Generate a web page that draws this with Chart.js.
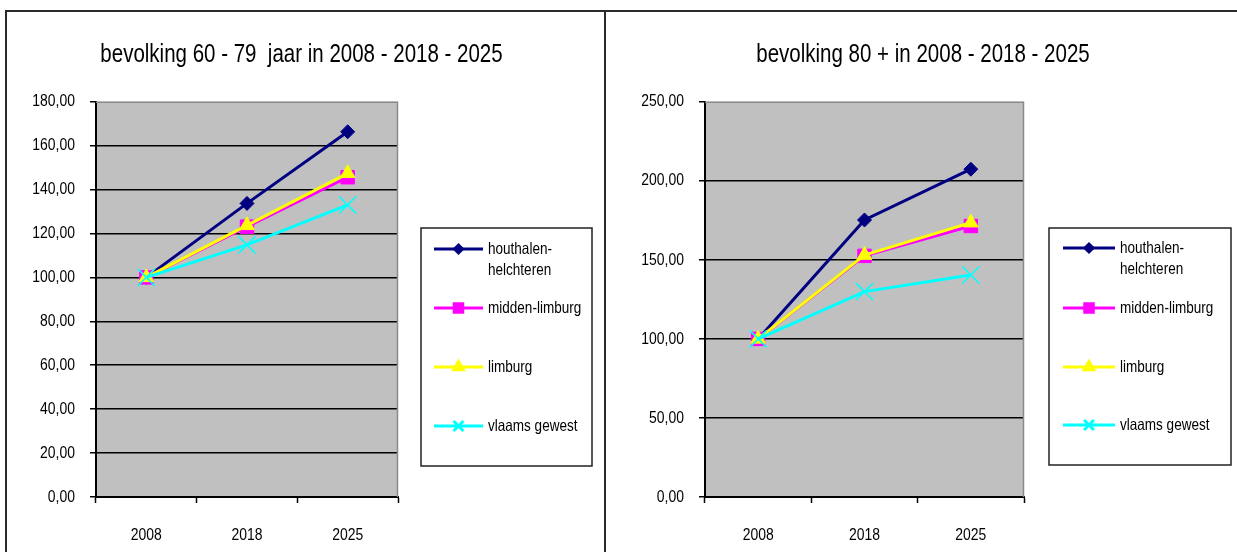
<!DOCTYPE html>
<html>
<head>
<meta charset="utf-8">
<script src="https://cdn.jsdelivr.net/npm/chart.js@4/dist/chart.umd.min.js"></script>
<style>
  html, body { margin: 0; padding: 0; background: #fff; }
  body { width: 1237px; height: 552px; position: relative; overflow: hidden; }
  .frame { position: absolute; background: #2a2a2a; }
  .wrap { position: absolute; }
</style>
</head>
<body>
<div class="frame" style="left:5px; top:10px; width:1232px; height:2px;"></div>
<div class="frame" style="left:5px; top:10px; width:2px; height:542px;"></div>
<div class="frame" style="left:604px; top:10px; width:2px; height:542px;"></div>

<div class="wrap" style="left:7px; top:12px; width:597px; height:540px;"><canvas id="c1" width="597" height="540"></canvas></div>
<div class="wrap" style="left:607px; top:12px; width:630px; height:540px;"><canvas id="c2" width="630" height="540"></canvas></div>

<script>
// ---------- data ----------
const categories = ['2008', '2018', '2025'];
const seriesNames = ['houthalen-helchteren', 'midden-limburg', 'limburg', 'vlaams gewest'];
const legendLines = [['houthalen-', 'helchteren'], ['midden-limburg'], ['limburg'], ['vlaams gewest']];

const title6079 = 'bevolking 60 - 79  jaar in 2008 - 2018 - 2025';
const houthalen6079 = [100, 133.7, 166.3];
const midden6079    = [100, 123.1, 145.6];
const limburg6079   = [100, 123.7, 147.4];
const vlaams6079    = [100, 114.8, 133.0];
const ticks6079     = [0, 20, 40, 60, 80, 100, 120, 140, 160, 180];
const tickLabels6079 = ['0,00', '20,00', '40,00', '60,00', '80,00', '100,00', '120,00', '140,00', '160,00', '180,00'];

const title80 = 'bevolking 80 + in 2008 - 2018 - 2025';
const houthalen80 = [100, 175.2, 207.3];
const midden80    = [100, 152.5, 171.4];
const limburg80   = [100, 153.0, 173.5];
const vlaams80    = [100, 129.9, 140.4];
const ticks80     = [0, 50, 100, 150, 200, 250];
const tickLabels80 = ['0,00', '50,00', '100,00', '150,00', '200,00', '250,00'];

// ---------- styling ----------
const FONT = "'Liberation Sans', Arial, sans-serif";
const NARROW = 0.82; // horizontal condensing, like Arial Narrow
const seriesStyle = [
  { color: '#000080', pointStyle: 'rectRot',  radius: 7,   legendRadius: 4,   borderWidth: 1 },
  { color: '#FF00FF', pointStyle: 'rect',     radius: 9.5, legendRadius: 6,   borderWidth: 1 },
  { color: '#FFFF00', pointStyle: 'triangle', radius: 8.5, legendRadius: 5.5, borderWidth: 1 },
  { color: '#00FFFF', pointStyle: 'crossRot', radius: 12,  legendRadius: 7,   borderWidth: 1.5 }
];

function buildDatasets(values) {
  return values.map((v, i) => {
    const s = seriesStyle[i];
    return {
      label: seriesNames[i],
      data: v,
      borderColor: s.color,
      backgroundColor: s.color,
      pointBackgroundColor: s.color,
      pointBorderColor: s.color,
      pointStyle: s.pointStyle,
      pointRadius: s.radius,
      pointHoverRadius: s.radius,
      pointBorderWidth: s.borderWidth,
      borderWidth: 3,
      tension: 0,
      order: 4 - i
    };
  });
}

function fallbackPoint(ctx, style, r, x, y, color) {
  ctx.save();
  ctx.fillStyle = color; ctx.strokeStyle = color; ctx.lineWidth = 1.5;
  ctx.beginPath();
  if (style === 'rectRot') {
    ctx.moveTo(x - r, y); ctx.lineTo(x, y - r); ctx.lineTo(x + r, y); ctx.lineTo(x, y + r); ctx.closePath(); ctx.fill();
  } else if (style === 'rect') {
    const s = r * Math.SQRT1_2; ctx.rect(x - s, y - s, 2 * s, 2 * s); ctx.fill();
  } else if (style === 'triangle') {
    ctx.moveTo(x, y - r); ctx.lineTo(x + r * 0.866, y + r / 2); ctx.lineTo(x - r * 0.866, y + r / 2); ctx.closePath(); ctx.fill();
  } else {
    const s = r * Math.SQRT1_2;
    ctx.moveTo(x - s, y - s); ctx.lineTo(x + s, y + s); ctx.moveTo(x + s, y - s); ctx.lineTo(x - s, y + s); ctx.stroke();
  }
  ctx.restore();
}

// Draw the library's own tick label items, condensed horizontally.
function patchScaleLabels(scale) {
  if (scale._narrowPatched) return;
  scale._narrowPatched = true;
  scale.drawLabels = function (chartArea) {
    if (!this.options.ticks.display) return;
    const ctx = this.ctx;
    const items = this.getLabelItems(chartArea);
    for (const item of items) {
      const o = item.options;
      ctx.save();
      ctx.font = item.font.string;
      ctx.fillStyle = o.color;
      ctx.textAlign = o.textAlign;
      ctx.textBaseline = o.textBaseline;
      ctx.translate(o.translation[0], o.translation[1]);
      if (o.rotation) ctx.rotate(o.rotation);
      ctx.scale(NARROW, 1);
      const lines = Array.isArray(item.label) ? item.label : [item.label];
      let y = item.textOffset;
      for (const l of lines) { ctx.fillText(String(l), 0, y); y += item.font.lineHeight; }
      ctx.restore();
    }
  };
}

function narrowText(ctx, text, x, y) {
  ctx.save();
  ctx.translate(x, y);
  ctx.scale(NARROW, 1);
  ctx.fillText(text, 0, 0);
  ctx.restore();
}

const decorPlugin = {
  id: 'decor',
  beforeDraw(chart) {
    Object.values(chart.scales).forEach(patchScaleLabels);
    const { ctx, chartArea: a } = chart;
    ctx.save();
    ctx.fillStyle = '#C0C0C0';
    ctx.fillRect(a.left, a.top, a.right - a.left, a.bottom - a.top);
    ctx.restore();
  },
  beforeDatasetsDraw(chart) {
    const { ctx, chartArea: a } = chart;
    ctx.save();
    ctx.strokeStyle = '#8a8a8a';
    ctx.lineWidth = 1.5;
    ctx.beginPath();
    ctx.moveTo(a.left, a.top + 0.5); ctx.lineTo(a.right - 0.5, a.top + 0.5); ctx.lineTo(a.right - 0.5, a.bottom);
    ctx.stroke();
    ctx.restore();
  },
  afterDraw(chart, args, opts) {
    const ctx = chart.ctx;
    ctx.save();
    // title
    ctx.fillStyle = '#000';
    ctx.font = '25px ' + FONT;
    ctx.textAlign = 'center';
    ctx.textBaseline = 'middle';
    narrowText(ctx, opts.title, opts.titleX, opts.titleY);
    // legend box
    const L = opts.legend;
    ctx.strokeStyle = '#222';
    ctx.lineWidth = 1.5;
    ctx.strokeRect(L.x, L.y, L.w, L.h);
    ctx.font = '16.5px ' + FONT;
    ctx.textAlign = 'left';
    const helpers = Chart.helpers;
    legendLines.forEach((lines, i) => {
      const s = seriesStyle[i];
      const yy = L.rows[i];
      ctx.strokeStyle = s.color;
      ctx.lineWidth = 3;
      ctx.beginPath();
      ctx.moveTo(L.lineX0, yy); ctx.lineTo(L.lineX1, yy);
      ctx.stroke();
      const mx = (L.lineX0 + L.lineX1) / 2;
      if (helpers && helpers.drawPoint) {
        ctx.fillStyle = s.color; ctx.strokeStyle = s.color;
        helpers.drawPoint(ctx, { pointStyle: s.pointStyle, radius: s.legendRadius, rotation: 0, borderWidth: s.borderWidth }, mx, yy);
      } else {
        fallbackPoint(ctx, s.pointStyle, s.legendRadius, mx, yy, s.color);
      }
      ctx.fillStyle = '#000';
      lines.forEach((t, k) => narrowText(ctx, t, L.textX, yy + k * 21));
    });
    ctx.restore();
  }
};

function makeChart(id, values, ticks, tickLabels, maxV, step, cfg) {
  return new Chart(document.getElementById(id), {
    type: 'line',
    data: { labels: categories, datasets: buildDatasets(values) },
    plugins: [decorPlugin],
    options: {
      responsive: false,
      animation: false,
      events: [],
      layout: { padding: { left: 0, right: cfg.padRight, top: 89.7, bottom: 0 } },
      plugins: {
        legend: { display: false },
        title: { display: false },
        tooltip: { enabled: false },
        decor: { title: cfg.title, titleX: cfg.titleX, titleY: 43, legend: cfg.legend }
      },
      scales: {
        x: {
          type: 'category',
          offset: true,
          afterFit(scale) { scale.height = 55; },
          border: { display: true, color: '#000', width: 2 },
          grid: { display: true, drawOnChartArea: false, offset: true, drawTicks: true, tickLength: 6, tickColor: '#000', tickWidth: 1.5, color: '#000' },
          ticks: { color: '#000', font: { family: FONT, size: 17 }, padding: 22, maxRotation: 0 }
        },
        y: {
          min: 0, max: maxV,
          afterFit(scale) { scale.width = cfg.yWidth; },
          afterBuildTicks(scale) { scale.ticks = ticks.map(v => ({ value: v })); },
          border: { display: true, color: '#000', width: 2 },
          grid: {
            color: (c) => (c.tick && (c.tick.value === maxV || c.tick.value === 0)) ? 'rgba(0,0,0,0)' : '#000',
            lineWidth: 1.5,
            tickColor: '#000',
            tickLength: 6,
            tickWidth: 1.5
          },
          ticks: {
            color: '#000',
            font: { family: FONT, size: 17 },
            padding: 15,
            stepSize: step,
            callback: (v) => { const i = ticks.indexOf(v); return i >= 0 ? tickLabels[i] : ''; }
          }
        }
      }
    }
  });
}

makeChart('c1', [houthalen6079, midden6079, limburg6079, vlaams6079], ticks6079, tickLabels6079, 180, 20, {
  padRight: 206, yWidth: 89, title: title6079, titleX: 294.5,
  legend: { x: 414, y: 216, w: 171, h: 238, lineX0: 427, lineX1: 476, textX: 481, rows: [237, 296, 355, 414] }
});
makeChart('c2', [houthalen80, midden80, limburg80, vlaams80], ticks80, tickLabels80, 250, 50, {
  padRight: 213, yWidth: 98, title: title80, titleX: 316,
  legend: { x: 442, y: 216, w: 182, h: 237, lineX0: 456, lineX1: 508, textX: 513, rows: [236, 296, 355, 413] }
});
</script>
</body>
</html>
